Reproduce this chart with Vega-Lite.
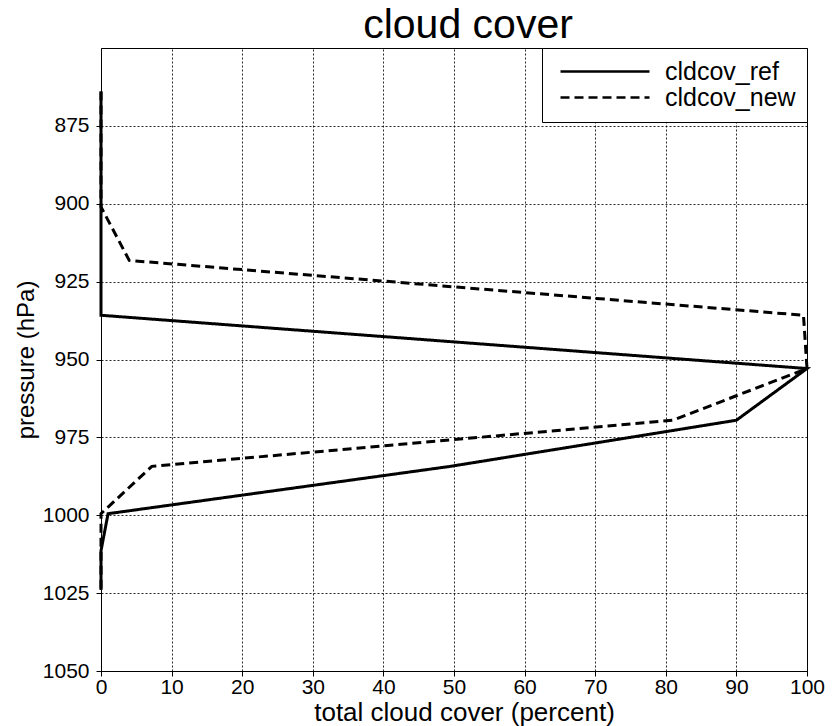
{
  "$schema": "https://vega.github.io/schema/vega-lite/v6.json",
  "width": 706,
  "height": 623,
  "autosize": {"type": "none"},
  "padding": {"left": 101, "top": 48, "right": 26, "bottom": 55},
  "background": "white",
  "title": {
    "text": "cloud cover",
    "font": "Liberation Sans",
    "fontSize": 41,
    "fontWeight": "normal",
    "color": "#000",
    "anchor": "middle",
    "frame": "group",
    "baseline": "alphabetic",
    "offset": 11,
    "dx": 14,
    "dy": 42
  },
  "config": {
    "view": {"stroke": "#000", "strokeWidth": 1},
    "axis": {
      "labelFont": "Liberation Sans",
      "labelFontSize": 21,
      "labelColor": "#000",
      "titleFont": "Liberation Sans",
      "titleFontWeight": "normal",
      "titleColor": "#000",
      "domainColor": "#000",
      "domainWidth": 1,
      "tickColor": "#000",
      "tickSize": 5,
      "tickWidth": 1,
      "grid": true,
      "gridColor": "#000",
      "gridDash": [2, 2],
      "gridWidth": 1,
      "gridOpacity": 0.85
    }
  },
  "data": {
    "values": [
      {"series": "cldcov_ref", "pressure": 864, "cover": 0},
      {"series": "cldcov_ref", "pressure": 882, "cover": 0},
      {"series": "cldcov_ref", "pressure": 901, "cover": 0},
      {"series": "cldcov_ref", "pressure": 918.2, "cover": 0},
      {"series": "cldcov_ref", "pressure": 935.8, "cover": 0},
      {"series": "cldcov_ref", "pressure": 952.9, "cover": 100},
      {"series": "cldcov_ref", "pressure": 969.5, "cover": 90},
      {"series": "cldcov_ref", "pressure": 984.3, "cover": 49.5},
      {"series": "cldcov_ref", "pressure": 999.5, "cover": 1},
      {"series": "cldcov_ref", "pressure": 1011.4, "cover": 0},
      {"series": "cldcov_ref", "pressure": 1024, "cover": 0},
      {"series": "cldcov_new", "pressure": 864, "cover": 0},
      {"series": "cldcov_new", "pressure": 882, "cover": 0},
      {"series": "cldcov_new", "pressure": 901, "cover": 0},
      {"series": "cldcov_new", "pressure": 918.2, "cover": 4},
      {"series": "cldcov_new", "pressure": 935.8, "cover": 99.5},
      {"series": "cldcov_new", "pressure": 952.9, "cover": 100},
      {"series": "cldcov_new", "pressure": 969.5, "cover": 81},
      {"series": "cldcov_new", "pressure": 984.3, "cover": 7.2},
      {"series": "cldcov_new", "pressure": 999.5, "cover": 0},
      {"series": "cldcov_new", "pressure": 1011.4, "cover": 0},
      {"series": "cldcov_new", "pressure": 1024, "cover": 0}
    ]
  },
  "mark": {"type": "line", "color": "#000", "strokeWidth": 3, "clip": false},
  "encoding": {
    "x": {
      "field": "cover",
      "type": "quantitative",
      "scale": {"domain": [0, 100], "nice": false, "zero": false},
      "axis": {
        "title": "total cloud cover (percent)",
        "titleFontSize": 26,
        "titlePadding": 2,
        "titleX": 363,
        "format": "d",
        "values": [0, 10, 20, 30, 40, 50, 60, 70, 80, 90, 100],
        "labelPadding": 0,
        "labelFlush": false,
        "labelOverlap": false
      }
    },
    "y": {
      "field": "pressure",
      "type": "quantitative",
      "scale": {"domain": [850, 1050], "reverse": true, "nice": false, "zero": false},
      "axis": {
        "title": "pressure (hPa)",
        "titleFontSize": 24,
        "titlePadding": 4,
        "format": "d",
        "values": [875, 900, 925, 950, 975, 1000, 1025, 1050],
        "labelPadding": 7,
        "labelFlush": false,
        "labelOverlap": false
      }
    },
    "order": {"field": "pressure", "type": "quantitative"},
    "strokeDash": {
      "field": "series",
      "type": "nominal",
      "scale": {"domain": ["cldcov_ref", "cldcov_new"], "range": [[1, 0], [9, 5]]},
      "legend": {
        "title": null,
        "orient": "top-right",
        "offset": 0,
        "fillColor": "white",
        "strokeColor": "#000",
        "padding": 11,
        "symbolType": "M-1,0H16.8",
        "symbolSize": 100,
        "symbolStrokeWidth": 2.5,
        "symbolStrokeColor": "#000",
        "symbolFillColor": "transparent",
        "labelOffset": 87,
        "labelFont": "Liberation Sans",
        "labelFontSize": 25,
        "labelColor": "#000",
        "rowPadding": -3
      }
    }
  }
}
